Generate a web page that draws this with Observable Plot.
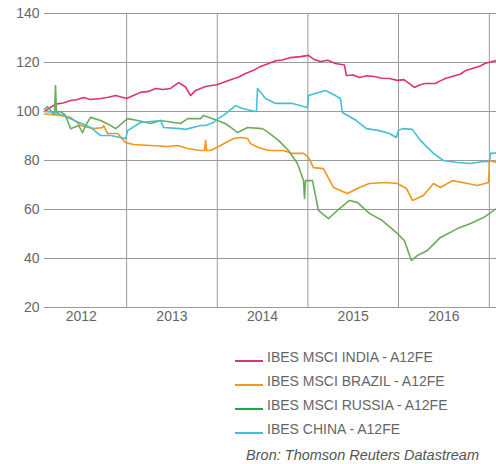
<!DOCTYPE html>
<html>
<head>
<meta charset="utf-8">
<script src="https://cdn.jsdelivr.net/npm/d3@7"></script>
<script src="https://cdn.jsdelivr.net/npm/@observablehq/plot@0.6"></script>
<style>
  body { margin: 0; background: #fff; font-family: "Liberation Sans", Arial, sans-serif; }
  #wrap { width: 496px; }
  #wrap svg { display: block; }
  .legend { margin-top: 17px; padding-left: 235px; }
  .row { height: 24px; line-height: 20px; font-size: 14px; color: #666; white-space: nowrap; }
  .sw { display: inline-block; width: 28px; height: 2px; vertical-align: baseline; margin-right: 4px; }
  .cap { width: 479px; text-align: right; margin-top: 4px; font-size: 14.5px; line-height: 17px; font-style: italic; color: #555; white-space: nowrap; }
</style>
</head>
<body>
<div id="wrap"></div>
<script>
// Series names and colours
const seriesNames = ["IBES MSCI INDIA - A12FE", "IBES MSCI BRAZIL - A12FE", "IBES MSCI RUSSIA - A12FE", "IBES CHINA - A12FE"];
const lineColors = ["#e0307a", "#f7941d", "#6dab60", "#43c0d6"];
const legendColors = ["#e0307a", "#f7941d", "#1aa84b", "#43c0d6"];
const captionText = "Bron: Thomson Reuters Datastream";

// Dates as decimal years
const indiaT = [2012.096, 2012.217, 2012.300, 2012.383, 2012.450, 2012.526, 2012.600, 2012.713, 2012.800, 2012.879, 2013.0, 2013.080, 2013.154, 2013.240, 2013.320, 2013.400, 2013.485, 2013.573, 2013.650, 2013.706, 2013.761, 2013.871, 2014.003, 2014.147, 2014.230, 2014.312, 2014.400, 2014.477, 2014.560, 2014.643, 2014.720, 2014.808, 2014.918, 2015.007, 2015.070, 2015.139, 2015.220, 2015.304, 2015.403, 2015.425, 2015.500, 2015.568, 2015.650, 2015.734, 2015.820, 2015.899, 2015.988, 2016.060, 2016.120, 2016.175, 2016.240, 2016.297, 2016.407, 2016.460, 2016.517, 2016.627, 2016.680, 2016.738, 2016.848, 2016.900, 2016.958, 2017.079];
const indiaV = [100, 103, 103.5, 104.5, 104.8, 105.7, 104.9, 105.3, 105.8, 106.5, 105.3, 106.6, 107.8, 108.2, 109.4, 109.0, 109.4, 111.8, 110, 106.5, 108.6, 110.2, 111, 113, 114.0, 115.5, 116.8, 118.4, 119.5, 120.7, 121.0, 122, 122.4, 122.9, 121.2, 120.4, 120.9, 119.6, 119, 114.7, 114.9, 113.9, 114.6, 114.3, 113.6, 113.5, 112.7, 113.0, 111.4, 109.8, 110.9, 111.4, 111.4, 112.5, 113.5, 114.7, 115.2, 116.7, 118, 118.6, 119.7, 120.8];

const brazilT = [2012.096, 2012.272, 2012.383, 2012.493, 2012.636, 2012.735, 2012.746, 2012.790, 2012.901, 2012.989, 2013.077, 2013.265, 2013.452, 2013.562, 2013.673, 2013.816, 2013.860, 2013.871, 2013.882, 2013.926, 2014.036, 2014.180, 2014.257, 2014.334, 2014.367, 2014.455, 2014.566, 2014.731, 2014.830, 2014.952, 2015.007, 2015.062, 2015.172, 2015.282, 2015.436, 2015.568, 2015.679, 2015.866, 2015.988, 2016.087, 2016.153, 2016.274, 2016.385, 2016.462, 2016.594, 2016.760, 2016.870, 2016.991, 2017.002, 2017.079];
const brazilV = [99, 98.4, 97.6, 94.3, 93, 93.5, 94.3, 91, 91, 87.3, 86.5, 86.1, 85.7, 86.1, 84.9, 84.1, 84.1, 88.2, 84.1, 84.1, 86.1, 89, 89.4, 89, 86.9, 85.3, 84.1, 84.1, 82.9, 82.9, 81.3, 77.1, 76.7, 69, 66.5, 69, 70.6, 71, 70.6, 68.6, 63.7, 65.7, 70.6, 69, 71.8, 70.6, 69.8, 71, 80, 79.2];

const russiaT = [2012.096, 2012.129, 2012.195, 2012.206, 2012.217, 2012.228, 2012.272, 2012.327, 2012.383, 2012.471, 2012.515, 2012.548, 2012.603, 2012.713, 2012.824, 2012.879, 2013.011, 2013.121, 2013.265, 2013.375, 2013.595, 2013.673, 2013.816, 2013.849, 2014.003, 2014.092, 2014.169, 2014.224, 2014.334, 2014.499, 2014.566, 2014.676, 2014.786, 2014.885, 2014.952, 2014.963, 2014.974, 2015.051, 2015.117, 2015.227, 2015.326, 2015.458, 2015.546, 2015.679, 2015.822, 2015.977, 2016.065, 2016.142, 2016.208, 2016.319, 2016.462, 2016.649, 2016.793, 2016.936, 2017.079];
const russiaV = [101, 102, 99, 99, 110.6, 99.6, 100, 98.4, 93, 94.3, 91.4, 94.3, 97.6, 96.3, 94.3, 93, 97.1, 96.3, 95.1, 96.3, 95.1, 97.1, 97.1, 98.4, 96.3, 95, 93, 91.4, 93.5, 93, 91.4, 88.2, 84.1, 78.8, 71.8, 64.5, 71.8, 71.8, 59.6, 56.3, 59.6, 63.7, 62.9, 58.4, 55.5, 50.6, 47.3, 39.2, 41.2, 43.3, 48.6, 52.2, 54.3, 56.7, 60.4];

const chinaT = [2012.096, 2012.217, 2012.383, 2012.603, 2012.713, 2012.824, 2012.989, 2013.011, 2013.154, 2013.375, 2013.408, 2013.595, 2013.650, 2013.816, 2013.871, 2013.959, 2014.003, 2014.069, 2014.202, 2014.279, 2014.422, 2014.433, 2014.444, 2014.533, 2014.643, 2014.830, 2014.996, 2015.007, 2015.194, 2015.304, 2015.359, 2015.381, 2015.535, 2015.646, 2015.789, 2015.899, 2015.977, 2015.999, 2016.043, 2016.153, 2016.241, 2016.385, 2016.495, 2016.649, 2016.793, 2016.936, 2017.002, 2017.013, 2017.079];
const chinaV = [100, 99.6, 97, 93.5, 90.2, 90.2, 89, 92.2, 95.5, 96.3, 93.5, 93, 92.7, 94.3, 94.3, 95.5, 97, 98.4, 102.4, 101.2, 100, 100, 109.4, 105.3, 103.3, 103.3, 101.6, 106.5, 108.6, 106.5, 105.3, 99.6, 96.3, 93, 92.2, 91, 89.4, 92.2, 93, 92.7, 88.2, 82.9, 80, 79.2, 78.8, 79.6, 79.6, 82.9, 83];

const yTicks = [20, 40, 60, 80, 100, 120, 140];
const yearLabels = [2012, 2013, 2014, 2015, 2016];
const yearBoundaries = [2013, 2014, 2015, 2016, 2017];
const xStart = 2012.096, xEnd = 2017.079;

function dec(t) {
  const y = Math.floor(t);
  const a = Date.UTC(y, 0, 1), b = Date.UTC(y + 1, 0, 1);
  return new Date(a + (t - y) * (b - a));
}

const allT = [indiaT, brazilT, russiaT, chinaT];
const allV = [indiaV, brazilV, russiaV, chinaV];
const data = [];
allT.forEach((ts, i) => ts.forEach((t, j) => data.push({series: seriesNames[i], date: dec(t), value: allV[i][j]})));

const chart = Plot.plot({
  width: 496,
  height: 330,
  marginLeft: 44,
  marginRight: 0,
  marginTop: 13,
  marginBottom: 23,
  style: {fontFamily: "Liberation Sans, Arial, sans-serif", fontSize: "14px", color: "#666", background: "#fff"},
  x: {type: "utc", domain: [dec(xStart), dec(xEnd)], label: null},
  y: {domain: [20, 140], label: null},
  color: {domain: seriesNames, range: lineColors},
  marks: [
    Plot.gridY(yTicks, {stroke: "#9a9a9a", strokeOpacity: 1, strokeWidth: 1}),
    Plot.gridX(yearBoundaries.map(y => dec(y)), {stroke: "#9a9a9a", strokeOpacity: 1, strokeWidth: 1}),
    Plot.axisY(yTicks, {tickSize: 0, tickPadding: 5, fontSize: 14, fill: "#666", label: null}),
    Plot.axisX(yearLabels.map(y => dec(y + 0.5)), {tickSize: 0, tickPadding: 4, fontSize: 14, fill: "#666", label: null, tickFormat: d => String(d.getUTCFullYear())}),
    Plot.line(data, {x: "date", y: "value", z: "series", stroke: "series", strokeWidth: 1.6})
  ]
});

const wrap = document.getElementById("wrap");
wrap.appendChild(chart);
const legend = document.createElement("div");
legend.className = "legend";
seriesNames.forEach((name, i) => {
  const row = document.createElement("div");
  row.className = "row";
  const sw = document.createElement("span");
  sw.className = "sw";
  sw.style.background = legendColors[i];
  row.appendChild(sw);
  row.appendChild(document.createTextNode(name));
  legend.appendChild(row);
});
wrap.appendChild(legend);
const cap = document.createElement("div");
cap.className = "cap";
cap.textContent = captionText;
wrap.appendChild(cap);
</script>
</body>
</html>
